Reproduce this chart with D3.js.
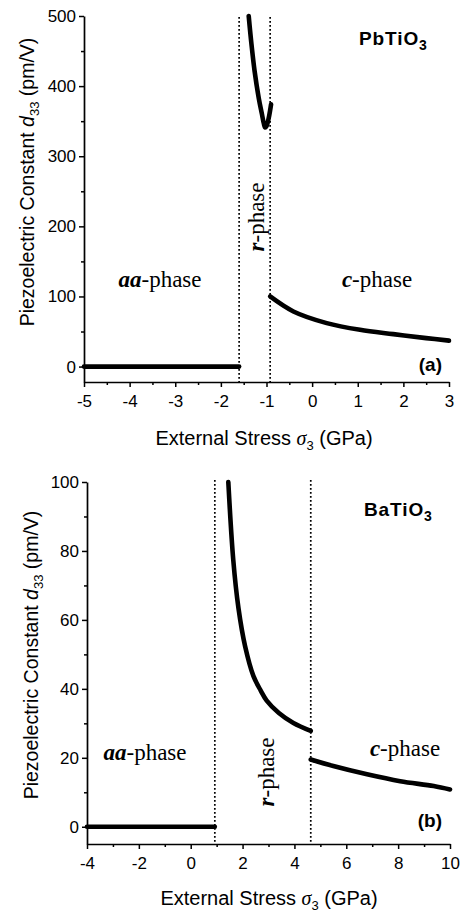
<!DOCTYPE html>
<html lang="en">
<head>
<meta charset="UTF-8">
<title>d33 vs external stress</title>
<script src="https://d3js.org/d3.v7.min.js"></script>
<style>
    body{margin:0;background:#fff;}
    text{font-family:"Liberation Sans",Arial,sans-serif;fill:#000;}
    .serif{font-family:"Liberation Serif","Times New Roman",serif;}
    .curve{fill:none;stroke:#000;stroke-width:4.6;stroke-linecap:round;stroke-linejoin:round;}
    .bound{stroke:#000;stroke-width:1.7;stroke-dasharray:1.7,2.3;}
</style>
</head>
<body>
<svg id="fig" width="464" height="916"></svg>
<script>
    // ---- (a) PbTiO3 ----
    let pbXTicks = [-5, -4, -3, -2, -1, 0, 1, 2, 3]
    let pbXMinor = [-4.5, -3.5, -2.5, -1.5, -0.5, 0.5, 1.5, 2.5]
    let pbYTicks = [0, 100, 200, 300, 400, 500]
    let pbYMinor = [50, 150, 250, 350, 450]
    let pbAaX = [-5, -1.6]
    let pbAaY = [0, 0]
    let pbRX = [-1.39, -1.33, -1.26, -1.17, -1.10, -1.06, -1.03, -1.00, -0.95, -0.90]
    let pbRY = [500, 460, 421, 383, 360, 347, 341, 343, 355, 374]
    let pbCX = [-0.92, -0.41, 0.32, 1.05, 1.78, 2.50, 3.0]
    let pbCY = [100, 78.6, 62, 52.4, 46.3, 40.6, 37]
    let pbBounds = [-1.6, -0.92]

    // ---- (b) BaTiO3 ----
    let baXTicks = [-4, -2, 0, 2, 4, 6, 8, 10]
    let baXMinor = [-3, -1, 1, 3, 5, 7, 9]
    let baYTicks = [0, 20, 40, 60, 80, 100]
    let baYMinor = [10, 30, 50, 70, 90]
    let baAaX = [-4, 0.93]
    let baAaY = [0, 0]
    let baRX = [1.45, 1.64, 1.84, 2.10, 2.42, 2.70, 2.93, 3.4, 3.96, 4.63]
    let baRY = [100, 77.5, 63.5, 52.3, 43.7, 39.5, 36.6, 33.0, 30.1, 27.8]
    let baCX = [4.63, 5.5, 6.8, 8.08, 9.37, 10]
    let baCY = [19.5, 17.6, 15.2, 13.2, 11.8, 10.8]
    let baBounds = [0.93, 4.63]

    let svg = d3.select("#fig")

    function zip(xs, ys) {
        return xs.map(function (x, i) { return [x, ys[i]] })
    }

    function panel(o) {
        let x = d3.scaleLinear().domain(o.xDom).range(o.xRange)
        let y = d3.scaleLinear().domain(o.yDom).range(o.yRange)
        let g = svg.append("g")
        let x0 = o.xRange[0], yb = o.yRange[0]

        // minor ticks
        g.append("g").attr("transform", "translate(0," + yb + ")")
            .call(d3.axisBottom(x).tickValues(o.xMinor).tickSize(3).tickFormat(""))
            .call(s => s.select(".domain").remove())
        g.append("g").attr("transform", "translate(" + x0 + ",0)")
            .call(d3.axisLeft(y).tickValues(o.yMinor).tickSize(3).tickFormat(""))
            .call(s => s.select(".domain").remove())
        // major
        let ax = g.append("g").attr("transform", "translate(0," + yb + ")")
            .call(d3.axisBottom(x).tickValues(o.xTicks).tickSize(5).tickSizeOuter(0)
                .tickPadding(8).tickFormat(d => String(d)))
        g.append("g").attr("transform", "translate(" + x0 + ",0)")
            .call(d3.axisLeft(y).tickValues(o.yTicks).tickSize(5).tickSizeOuter(0)
                .tickPadding(3).tickFormat(d => String(d)))
        g.selectAll(".tick line").attr("stroke", "#000").attr("stroke-width", 1.5)
        g.selectAll(".domain").attr("stroke", "#000").attr("stroke-width", 1.7)
        g.selectAll(".tick text").attr("font-size", 17).attr("font-family", null)
        ax.selectAll(".tick text").attr("dy", "0.68em")

        // phase boundaries
        g.selectAll(".bound").data(o.bounds).join("line")
            .attr("class", "bound")
            .attr("x1", d => x(d)).attr("x2", d => x(d))
            .attr("y1", o.boundTop).attr("y2", yb)

        // curves
        let line = d3.line().x(d => x(d[0])).y(d => y(d[1])).curve(d3.curveCatmullRom.alpha(0.5))
        g.selectAll(".curve").data(o.series).join("path")
            .attr("class", "curve")
            .attr("d", line)

        // axis titles
        let xt = g.append("text").attr("x", o.xTitle[0]).attr("y", o.xTitle[1])
            .attr("text-anchor", "middle").attr("font-size", 20)
        xt.append("tspan").text("External Stress ")
        xt.append("tspan").attr("class", "serif").attr("font-style", "italic").text("σ")
        xt.append("tspan").attr("font-size", 13).attr("dy", 5).text("3")
        xt.append("tspan").attr("dy", -5).text(" (GPa)")

        let yt = g.append("text")
            .attr("transform", "translate(" + o.yTitle[0] + "," + o.yTitle[1] + ") rotate(-90)")
            .attr("text-anchor", "middle").attr("font-size", 19.5)
        yt.append("tspan").text("Piezoelectric Constant ")
        yt.append("tspan").attr("font-style", "italic").text("d")
        yt.append("tspan").attr("font-size", 13).attr("dy", 5).text("33")
        yt.append("tspan").attr("dy", -5).text(" (pm/V)")

        // material
        let mt = g.append("text").attr("x", o.mat[0]).attr("y", o.mat[1])
            .attr("font-size", 19).attr("font-weight", "bold").attr("letter-spacing", 0.9)
        mt.append("tspan").text(o.matName)
        mt.append("tspan").attr("font-size", 14).attr("dy", 5).text("3")

        g.append("text").attr("x", 442).attr("y", o.tag[1])
            .attr("text-anchor", "end").attr("font-size", 19).attr("font-weight", "bold")
            .text(o.tagText)

        // phase labels
        function phase(pos, lead, rotate) {
            let t = g.append("text").attr("class", "serif").attr("font-size", 23)
                .attr("text-anchor", "middle")
            if (rotate) t.attr("transform", "translate(" + pos[0] + "," + pos[1] + ") rotate(-90)")
            else t.attr("x", pos[0]).attr("y", pos[1])
            t.append("tspan").attr("font-weight", "bold").attr("font-style", "italic").text(lead)
            t.append("tspan").text("-phase")
        }
        phase(o.aa, "aa", false)
        phase(o.rr, "r", true)
        phase(o.cc, "c", false)
    }

    panel({
        xDom: [-5, 3], xRange: [84, 449],
        yDom: [-22, 500], yRange: [382, 16],
        xTicks: pbXTicks, xMinor: pbXMinor, yTicks: pbYTicks, yMinor: pbYMinor,
        bounds: pbBounds, boundTop: 17,
        series: [zip(pbAaX, pbAaY), zip(pbRX, pbRY), zip(pbCX, pbCY)],
        xTitle: [264, 445], yTitle: [34, 182],
        matName: "PbTiO", mat: [359, 45],
        tagText: "(a)", tag: [442, 371],
        aa: [160, 287], rr: [264, 217], cc: [377, 287]
    })

    panel({
        xDom: [-4, 10], xRange: [87, 450],
        yDom: [-5, 100], yRange: [844, 482],
        xTicks: baXTicks, xMinor: baXMinor, yTicks: baYTicks, yMinor: baYMinor,
        bounds: baBounds, boundTop: 480,
        series: [zip(baAaX, baAaY), zip(baRX, baRY), zip(baCX, baCY)],
        xTitle: [269, 905], yTitle: [38, 655],
        matName: "BaTiO", mat: [364, 516],
        tagText: "(b)", tag: [442, 827],
        aa: [145, 760], rr: [274, 772], cc: [405, 756]
    })
</script>
</body>
</html>
